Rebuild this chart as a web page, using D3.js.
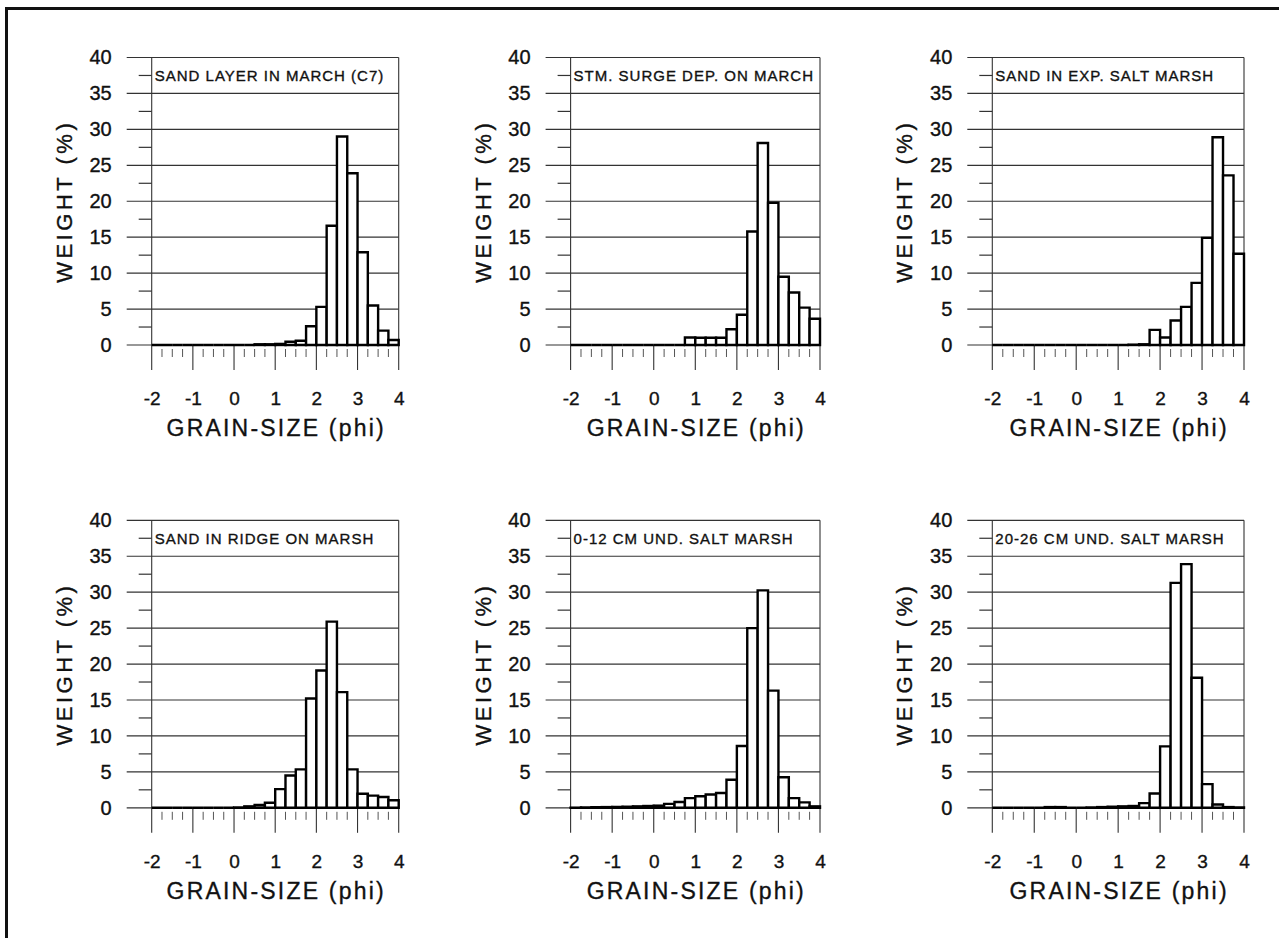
<!DOCTYPE html>
<html>
<head>
<meta charset="utf-8">
<script src="https://cdn.jsdelivr.net/npm/d3@7/dist/d3.min.js"></script>
<style>
  body { margin: 0; background: #fff; }
  svg { display: block; font-family: "Liberation Sans", Arial, Helvetica, sans-serif; }
  text { fill: #111; stroke: #111; stroke-width: 0.35px; }
</style>
</head>
<body>
<svg id="chart" width="1279" height="938"></svg>
<script>
// grain-size classes, lower edge in phi (0.25 phi wide)
const binStarts = [-2, -1.75, -1.5, -1.25, -1, -0.75, -0.5, -0.25, 0, 0.25, 0.5, 0.75,
                   1, 1.25, 1.5, 1.75, 2, 2.25, 2.5, 2.75, 3, 3.25, 3.5, 3.75];
const xTicks = [-2, -1, 0, 1, 2, 3, 4];
const yTicks = [0, 5, 10, 15, 20, 25, 30, 35, 40];
const yMinorTicks = [2.5, 7.5, 12.5, 17.5, 22.5, 27.5, 32.5, 37.5];

const titles = [
    'SAND LAYER IN MARCH (C7)',
    'STM. SURGE DEP. ON MARCH',
    'SAND IN EXP. SALT MARSH',
    'SAND IN RIDGE ON MARSH',
    '0-12 CM UND. SALT MARSH',
    '20-26 CM UND. SALT MARSH'
];

// weight (%) per class
const sandLayerMarch = [0, 0, 0, 0, 0, 0, 0, 0, 0, 0, 0.1, 0.1,
                        0.15, 0.45, 0.6, 2.6, 5.3, 16.6, 29.0, 23.9, 12.9, 5.5, 2.0, 0.7];
const stormSurgeDep = [0, 0, 0, 0, 0, 0, 0, 0, 0, 0, 0, 1.05,
                       1.0, 1.0, 1.0, 2.2, 4.2, 15.8, 28.1, 19.8, 9.5, 7.3, 5.2, 3.65];
const sandExpMarsh = [0, 0, 0, 0, 0, 0, 0, 0, 0, 0, 0, 0,
                      0, 0.05, 0.1, 2.1, 1.05, 3.4, 5.3, 8.65, 14.9, 28.9, 23.6, 12.7];
const sandRidgeMarsh = [0, 0, 0, 0, 0, 0, 0, 0, 0.05, 0.2, 0.4, 0.7,
                        2.6, 4.5, 5.35, 15.2, 19.1, 25.9, 16.1, 5.35, 1.95, 1.7, 1.5, 1.05];
const und0to12 = [0.02, 0.05, 0.08, 0.1, 0.12, 0.15, 0.2, 0.25, 0.3, 0.55, 0.8, 1.35,
                  1.6, 1.85, 2.05, 3.9, 8.6, 25.0, 30.25, 16.3, 4.25, 1.35, 0.75, 0.2];
const und20to26 = [0, 0, 0, 0, 0, 0.1, 0.1, 0, 0, 0.05, 0.1, 0.15,
                   0.2, 0.25, 0.65, 2.0, 8.55, 31.3, 33.9, 18.1, 3.3, 0.45, 0.1, 0.05];

const series = [sandLayerMarch, stormSurgeDep, sandExpMarsh, sandRidgeMarsh, und0to12, und20to26];

const BIN = 0.25;
const colX = [151.7, 570.6, 992.3];
const colW = [247, 249.4, 251.7];
const rowY = [57.5, 520.3];
const H = 287.5;

const svg = d3.select('#chart');

// outer frame (left + top only, like the scan)
svg.append('path')
    .attr('d', 'M6.5,938 V8.5 H1279')
    .attr('fill', 'none')
    .attr('stroke', '#111')
    .attr('stroke-width', 3);

titles.forEach((title, i) => {
    const col = i % 3;
    const row = Math.floor(i / 3);
    const w = colW[col];
    const values = series[i];

    const x = d3.scaleLinear().domain([-2, 4]).range([0, w]);
    const y = d3.scaleLinear().domain([0, 40]).range([H, 0]);

    const g = svg.append('g')
        .attr('transform', `translate(${colX[col]},${rowY[row]})`);

    /** horizontal grid */
    g.selectAll('line.grid')
        .data(yTicks)
        .enter()
        .append('line')
        .attr('class', 'grid')
        .attr('x1', -25)
        .attr('x2', w)
        .attr('y1', d => y(d))
        .attr('y2', d => y(d))
        .style('stroke', '#333')
        .style('stroke-width', 1.2);

    g.selectAll('line.yminor')
        .data(yMinorTicks)
        .enter()
        .append('line')
        .attr('class', 'yminor')
        .attr('x1', -13)
        .attr('x2', 0)
        .attr('y1', d => y(d))
        .attr('y2', d => y(d))
        .style('stroke', '#333')
        .style('stroke-width', 1.2);

    /** left axis, right edge and major x ticks */
    g.selectAll('line.xmajor')
        .data(xTicks)
        .enter()
        .append('line')
        .attr('class', 'xmajor')
        .attr('x1', d => x(d))
        .attr('x2', d => x(d))
        .attr('y1', d => (d === -2 || d === 4) ? y(40) : H)
        .attr('y2', H + 25)
        .style('stroke', '#333')
        .style('stroke-width', 1.1);

    g.selectAll('line.xminor')
        .data(binStarts.filter(d => !Number.isInteger(d)))
        .enter()
        .append('line')
        .attr('class', 'xminor')
        .attr('x1', d => x(d))
        .attr('x2', d => x(d))
        .attr('y1', H + 4)
        .attr('y2', H + 12)
        .style('stroke', '#555')
        .style('stroke-width', 1);

    /** bars, drawn as paths so empty classes still show on the baseline */
    g.selectAll('path.bar')
        .data(binStarts.map((b, j) => ({ b, v: values[j] })))
        .enter()
        .append('path')
        .attr('class', 'bar')
        .attr('d', d => {
            const p = d3.path();
            p.moveTo(x(d.b), y(0));
            p.lineTo(x(d.b), y(d.v));
            p.lineTo(x(d.b + BIN), y(d.v));
            p.lineTo(x(d.b + BIN), y(0));
            p.closePath();
            return p.toString();
        })
        .style('fill', '#fff')
        .style('stroke', '#000')
        .style('stroke-width', 2.4)
        .style('stroke-linejoin', 'miter');

    /** tick labels */
    const yAxis = g.append('g')
        .call(d3.axisLeft(y).tickValues(yTicks).tickSize(0).tickPadding(40).tickFormat(d => String(d)))
        .attr('font-size', 20)
        .attr('font-family', null);
    yAxis.select('.domain').remove();

    const xAxis = g.append('g')
        .attr('transform', `translate(0,${H})`)
        .call(d3.axisBottom(x).tickValues(xTicks).tickSize(0).tickPadding(46.5).tickFormat(d => String(d)))
        .attr('font-size', 19)
        .attr('font-family', null);
    xAxis.select('.domain').remove();

    /** axis titles */
    g.append('text')
        .attr('transform', `translate(-80,${H / 2}) rotate(-90)`)
        .attr('text-anchor', 'middle')
        .style('font-size', '22px')
        .style('letter-spacing', '3.5px')
        .text('WEIGHT (%)');

    g.append('text')
        .attr('x', w / 2 + 1)
        .attr('y', H + 91)
        .attr('text-anchor', 'middle')
        .style('font-size', '23px')
        .style('letter-spacing', '2.2px')
        .text('GRAIN-SIZE (phi)');

    /** sample label */
    g.append('text')
        .attr('x', 3)
        .attr('y', y(37.5))
        .attr('dy', '0.36em')
        .style('font-size', '15px')
        .style('letter-spacing', '1px')
        .text(title);
});
</script>
</body>
</html>
